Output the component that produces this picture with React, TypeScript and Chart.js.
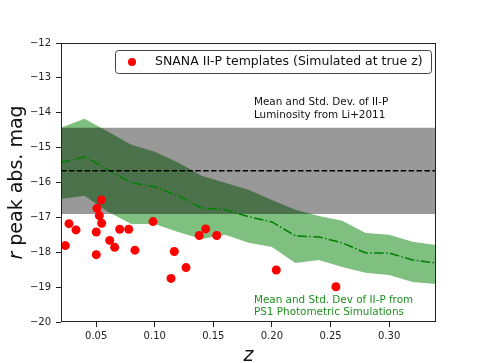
import React, { useEffect, useRef } from 'react';
import { Chart, registerables } from 'chart.js';

Chart.register(...registerables);

// ---- data ----
const zGrid = [0.02, 0.04, 0.06, 0.08, 0.10, 0.12, 0.14, 0.16, 0.18, 0.20, 0.22, 0.24, 0.26, 0.28, 0.30, 0.32, 0.34];
const simMean = [-15.43, -15.26, -15.63, -16.01, -16.12, -16.38, -16.73, -16.78, -16.98, -17.13, -17.53, -17.56, -17.73, -18.02, -18.02, -18.22, -18.31];
const simUpper = [-14.43, -14.17, -14.54, -14.92, -15.12, -15.43, -15.81, -16.01, -16.21, -16.50, -16.78, -16.96, -17.10, -17.45, -17.50, -17.70, -17.79];
const simLower = [-16.47, -16.38, -16.84, -17.19, -17.19, -17.42, -17.62, -17.50, -17.73, -17.85, -18.31, -18.22, -18.42, -18.59, -18.65, -18.85, -18.91];

const templateZ = [0.0237, 0.0268, 0.0328, 0.0501, 0.0501, 0.0507, 0.0527, 0.0544, 0.0547, 0.0616, 0.0658, 0.0701, 0.0778, 0.0831, 0.0985, 0.1139, 0.1167, 0.1267, 0.138, 0.1435, 0.1529, 0.2037, 0.2546];
const templateMag = [-17.81, -17.18, -17.36, -17.42, -18.07, -16.74, -16.95, -16.50, -17.17, -17.66, -17.86, -17.34, -17.34, -17.94, -17.12, -18.75, -17.98, -18.44, -17.52, -17.33, -17.52, -18.51, -18.99];

const liMean = -15.66;
const liUpper = -14.43;
const liLower = -16.9;

const xRange = [0.02, 0.34];
const yRange = [-20, -12];
const xTicks = [0.05, 0.1, 0.15, 0.2, 0.25, 0.3];
const yTicks = [-20, -19, -18, -17, -16, -15, -14, -13, -12];

const legendLabel = 'SNANA II-P templates (Simulated at true z)';
const liNote = ['Mean and Std. Dev. of II-P', 'Luminosity from Li+2011'];
const simNote = ['Mean and Std. Dev of II-P from', 'PS1 Photometric Simulations'];
const yTitleItalic = 'r';
const yTitleRest = ' peak abs. mag';
const xTitle = 'z';

const FONT = "'DejaVu Sans', sans-serif";

const decorPlugin = {
  id: 'decor',
  afterDraw(chart: any) {
    const { ctx, chartArea: a, scales } = chart;
    const xs = scales.x;
    const ys = scales.y;
    ctx.save();
    // frame
    ctx.strokeStyle = '#222';
    ctx.lineWidth = 1;
    ctx.strokeRect(Math.round(a.left) + 0.5, Math.round(a.top) + 0.5, Math.round(a.right - a.left) - 1, Math.round(a.bottom - a.top) - 1);

    // annotations
    ctx.textBaseline = 'middle';
    ctx.textAlign = 'left';
    ctx.font = `10.4px ${FONT}`;
    ctx.fillStyle = '#111';
    const nx = xs.getPixelForValue(0.1847);
    ctx.fillText(liNote[0], nx, ys.getPixelForValue(-13.71));
    ctx.fillText(liNote[1], nx, ys.getPixelForValue(-14.08));
    ctx.fillStyle = 'rgb(30,145,30)';
    ctx.fillText(simNote[0], nx, ys.getPixelForValue(-19.37));
    ctx.fillText(simNote[1], nx, ys.getPixelForValue(-19.72));

    // legend
    const lx = 115.5, ly = 50.5, lw = 316, lh = 23, r = 3;
    ctx.beginPath();
    ctx.moveTo(lx + r, ly);
    ctx.lineTo(lx + lw - r, ly);
    ctx.quadraticCurveTo(lx + lw, ly, lx + lw, ly + r);
    ctx.lineTo(lx + lw, ly + lh - r);
    ctx.quadraticCurveTo(lx + lw, ly + lh, lx + lw - r, ly + lh);
    ctx.lineTo(lx + r, ly + lh);
    ctx.quadraticCurveTo(lx, ly + lh, lx, ly + lh - r);
    ctx.lineTo(lx, ly + r);
    ctx.quadraticCurveTo(lx, ly, lx + r, ly);
    ctx.closePath();
    ctx.fillStyle = '#fff';
    ctx.fill();
    ctx.strokeStyle = '#444';
    ctx.stroke();
    ctx.beginPath();
    ctx.arc(132, 62, 4, 0, Math.PI * 2);
    ctx.fillStyle = 'red';
    ctx.fill();
    ctx.fillStyle = '#111';
    ctx.font = `12.5px ${FONT}`;
    ctx.fillText(legendLabel, 155, 62);

    // y title (italic r)
    ctx.translate(17, (a.top + a.bottom) / 2);
    ctx.rotate(-Math.PI / 2);
    ctx.fillStyle = '#111';
    const fi = `italic 19px ${FONT}`;
    const fn = `19px ${FONT}`;
    ctx.font = fi;
    const w1 = ctx.measureText(yTitleItalic).width;
    ctx.font = fn;
    const w2 = ctx.measureText(yTitleRest).width;
    const start = -(w1 + w2) / 2;
    ctx.textBaseline = 'middle';
    ctx.font = fi;
    ctx.fillText(yTitleItalic, start, 0);
    ctx.font = fn;
    ctx.fillText(yTitleRest, start + w1, 0);
    ctx.restore();

    // x title
    ctx.save();
    ctx.font = `italic 19px ${FONT}`;
    ctx.fillStyle = '#111';
    ctx.textAlign = 'center';
    ctx.textBaseline = 'alphabetic';
    ctx.fillText(xTitle, (a.left + a.right) / 2, 361);
    ctx.restore();
  },
};

export default function App() {
  const ref = useRef<HTMLCanvasElement>(null);
  useEffect(() => {
    document.body.style.margin = '0';
    const pts = (ys: number[]) => zGrid.map((z, i) => ({ x: z, y: ys[i] }));
    const chart = new Chart(ref.current!, {
      type: 'line',
      data: {
        datasets: [
          {
            label: 'simLower',
            data: pts(simLower),
            borderWidth: 0,
            pointRadius: 0,
            fill: false,
            order: 10,
          } as any,
          {
            label: 'simUpper',
            data: pts(simUpper),
            borderWidth: 0,
            pointRadius: 0,
            backgroundColor: 'rgba(0,128,0,0.5)',
            fill: '-1',
            order: 9,
          } as any,
          {
            label: 'liBand',
            data: [{ x: xRange[0], y: liUpper }, { x: xRange[1], y: liUpper }],
            borderWidth: 0,
            pointRadius: 0,
            backgroundColor: 'rgba(0,0,0,0.4)',
            fill: { value: liLower },
            order: 8,
          } as any,
          {
            label: 'simMean',
            data: pts(simMean),
            borderColor: 'rgb(0,128,0)',
            borderWidth: 1.5,
            borderDash: [9.6, 2.4, 1.5, 2.4],
            pointRadius: 0,
            fill: false,
            order: 7,
          } as any,
          {
            label: 'liMean',
            data: [{ x: xRange[0], y: liMean }, { x: xRange[1], y: liMean }],
            borderColor: '#000',
            borderWidth: 1.5,
            borderDash: [5.5, 2.4],
            pointRadius: 0,
            fill: false,
            order: 6,
          } as any,
          {
            type: 'scatter',
            label: legendLabel,
            data: templateZ.map((z, i) => ({ x: z, y: templateMag[i] })),
            backgroundColor: 'red',
            borderWidth: 0,
            pointRadius: 4.5,
            order: 1,
          } as any,
        ],
      },
      options: {
        responsive: false,
        devicePixelRatio: 1,
        animation: false,
        layout: { padding: { top: 43, right: 48, left: 0, bottom: 0 } },
        elements: { line: { tension: 0 } },
        plugins: { legend: { display: false }, tooltip: { enabled: false } },
        scales: {
          x: {
            type: 'linear',
            min: xRange[0],
            max: xRange[1],
            afterFit: (s: any) => { s.height = 41; },
            afterBuildTicks: (s: any) => { s.ticks = xTicks.map((v) => ({ value: v })); },
            grid: { display: true, drawOnChartArea: false, drawTicks: true, tickLength: 5, color: '#222' },
            border: { display: false },
            ticks: {
              padding: 3,
              color: '#222',
              font: { family: FONT, size: 10 },
              callback: (v: any) => Number(v).toFixed(2),
              maxRotation: 0,
              autoSkip: false,
            },
          },
          y: {
            type: 'linear',
            min: yRange[0],
            max: yRange[1],
            afterFit: (s: any) => { s.width = 61; },
            afterBuildTicks: (s: any) => { s.ticks = yTicks.map((v) => ({ value: v })); },
            grid: { display: true, drawOnChartArea: false, drawTicks: true, tickLength: 5, color: '#222' },
            border: { display: false },
            ticks: {
              padding: 5,
              color: '#222',
              font: { family: FONT, size: 10 },
              callback: (v: any) => (Number(v) < 0 ? '\u2212' + Math.abs(Number(v)) : String(v)),
              autoSkip: false,
            },
          },
        },
      },
      plugins: [decorPlugin],
    });
    return () => chart.destroy();
  }, []);
  return <canvas ref={ref} width={484} height={363} style={{ display: 'block' }} />;
}
